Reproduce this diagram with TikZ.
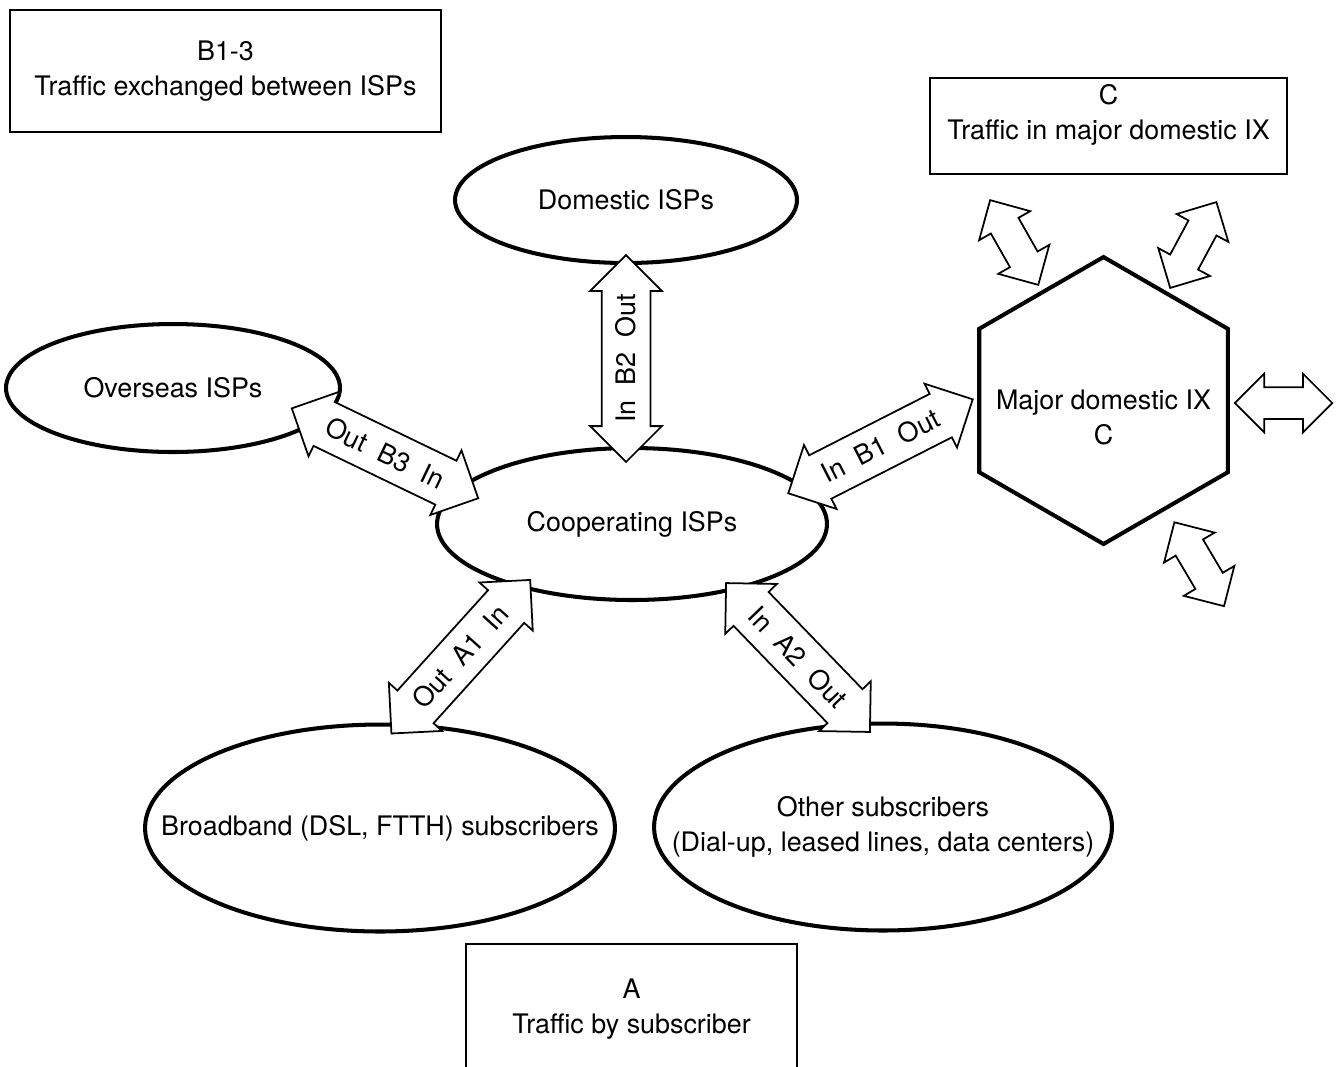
\documentclass[tikz,border=0pt]{standalone}
\usepackage{fontspec}
\setmainfont{TeX Gyre Heros}
\usetikzlibrary{shapes.geometric,shapes.arrows}
\newcommand{\dfont}{\fontsize{15.3}{20}\selectfont}

\begin{document}
\begin{tikzpicture}[x=0.02cm,y=-0.02cm,
  isp/.style={ellipse,draw,line width=2.3pt,fill=white,inner sep=0pt},
  isptext/.style={label={[font=\dfont,align=center]center:#1}},
  infobox/.style={rectangle,draw,line width=1pt,align=center,font=\dfont,inner sep=0pt},
  flow/.style={double arrow,draw,line width=1pt,fill=white,font=\dfont,
               inner xsep=0pt,inner ysep=0.28cm,text height=0.38cm,text depth=0pt,
               minimum height=4.14cm,minimum width=1.4cm,double arrow head extend=0.23cm},
  tinyflow/.style={flow,inner ysep=0.3cm,text height=0pt,
                   minimum height=1.95cm,minimum width=1.14cm,double arrow head extend=0.27cm}]
\clip (0,0) rectangle (1337,1066);
% traffic categories
\node[infobox,minimum width=8.62cm,minimum height=2.44cm] (boxB) at (225.5,71)
  {B1-3\\Traffic exchanged between ISPs};
\node[infobox,minimum width=7.14cm,minimum height=1.92cm] (boxC) at (1108.5,126) {};
\node[font=\dfont,align=center] (boxCtext) at (1108.5,115) {C\\Traffic in major domestic IX};
\node[infobox,minimum width=6.62cm,minimum height=2.6cm] (boxA) at (631.5,1009)
  {A\\Traffic by subscriber};
% networks
\node[isp,minimum width=6.84cm,minimum height=2.52cm,isptext={Domestic ISPs}] (dom) at (626,200) {};
\node[isp,minimum width=6.68cm,minimum height=2.56cm,isptext={Overseas ISPs}] (over) at (173,388) {};
\node[isp,minimum width=7.8cm,minimum height=3.04cm,isptext={Cooperating ISPs}] (coop) at (632,524) {};
\node[isp,minimum width=9.4cm,minimum height=4.14cm,
      isptext={Broadband (DSL, FTTH) subscribers}] (bb) at (380,828) {};
\node[isp,minimum width=9.16cm,minimum height=4.14cm,
      isptext={Other subscribers\\(Dial-up, leased lines, data centers)}] (other) at (883,827) {};
\node[regular polygon,regular polygon sides=6,shape border rotate=30,draw,line width=2.3pt,
      minimum size=5.74cm,inner sep=0pt] (ix) at (1103.5,400.5) {};
\node[font=\dfont,align=center] (ixtext) at (1103.5,417) {Major domestic IX\\C};
% flows
\node[flow,rotate=90] (b2) at (626,358.5) {In~~B2~~Out};
\node[flow,rotate=-25.75] (b3) at (385,453.3) {Out~~B3~~In};
\node[flow,rotate=27] (b1) at (880.5,446.3) {In~~B1~~Out};
\node[flow,rotate=47.9] (a1) at (460.8,656.7) {Out~~A1~~In};
\node[flow,rotate=-46] (a2) at (798,657.5) {In~~A2~~Out};
\node[tinyflow,rotate=-60.4] (c1) at (1014.2,242.5) {};
\node[tinyflow,rotate=61.7] (c2) at (1193.3,245) {};
\node[tinyflow] (c3) at (1283.5,403) {};
\node[tinyflow,rotate=-59.4] (c4) at (1199.2,564.2) {};
\end{tikzpicture}
\end{document}
